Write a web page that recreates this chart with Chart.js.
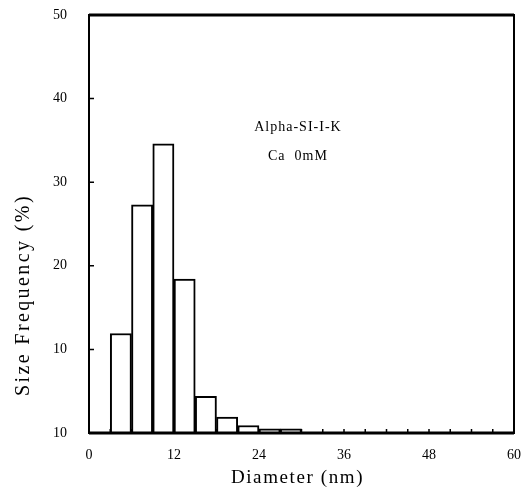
<!DOCTYPE html>
<html>
<head>
<meta charset="utf-8">
<script src="https://cdn.jsdelivr.net/npm/chart.js@4.4.1/dist/chart.umd.min.js"></script>
<style>
  html, body { margin: 0; padding: 0; background: #fff; }
  #wrap { width: 522px; height: 493px; }
</style>
</head>
<body>
<div id="wrap"><canvas id="histChart"></canvas></div>
<script>
// bin centres (nm), bins are 3 nm wide
const binCenters = [4.5, 7.5, 10.5, 13.5, 16.5, 19.5, 22.5, 25.5, 28.5];
// size frequency (%)
const frequency = [11.9, 27.3, 34.6, 18.4, 4.4, 1.9, 0.9, 0.5, 0.5];
// tick labels as printed on the figure
const yTickLabels = { 0: "10", 10: "10", 20: "20", 30: "30", 40: "40", 50: "50" };
const xTickLabels = { 0: "0", 12: "12", 24: "24", 36: "36", 48: "48", 60: "60" };
const notes = ["Alpha-SI-I-K", "Ca  0mM"];
const xTitle = "Diameter (nm)";
const yTitle = "Size Frequency (%)";

const serif = "'Liberation Serif', 'DejaVu Serif', serif";

// frame, inward ticks, axis titles and the text inside the plot
const framePlugin = {
  id: "frame",
  afterDraw(chart) {
    const ctx = chart.ctx;
    const a = chart.chartArea;
    const x = chart.scales.x, y = chart.scales.y;
    ctx.save();
    ctx.strokeStyle = "#000";
    ctx.lineWidth = 2;
    ctx.strokeRect(a.left, a.top, a.right - a.left, a.bottom - a.top);
    // heavier top edge and baseline, as in the print
    ctx.lineWidth = 3;
    ctx.beginPath();
    ctx.moveTo(a.left, a.top);
    ctx.lineTo(a.right, a.top);
    ctx.moveTo(a.left, a.bottom);
    ctx.lineTo(a.right, a.bottom);
    ctx.stroke();
    ctx.lineWidth = 1.5;
    ctx.beginPath();
    for (let v = 3; v < 60; v += 3) {
      const px = x.getPixelForValue(v);
      ctx.moveTo(px, a.bottom);
      ctx.lineTo(px, a.bottom - 4);
    }
    for (let v = 10; v < 50; v += 10) {
      const py = y.getPixelForValue(v);
      ctx.moveTo(a.left, py);
      ctx.lineTo(a.left + 5, py);
    }
    ctx.stroke();

    ctx.fillStyle = "#000";
    ctx.textAlign = "center";
    ctx.textBaseline = "middle";
    ctx.font = "14px " + serif;
    ctx.letterSpacing = "1px";
    ctx.fillText(notes[0], x.getPixelForValue(29.5), y.getPixelForValue(36.6));
    ctx.fillText(notes[1], x.getPixelForValue(29.5), y.getPixelForValue(33.1));

    ctx.font = "19px " + serif;
    ctx.letterSpacing = "1.6px";
    ctx.fillText(xTitle, (a.left + a.right) / 2 - 4, 478);

    ctx.translate(24, y.getPixelForValue(16.5));
    ctx.rotate(-Math.PI / 2);
    ctx.font = "20px " + serif;
    ctx.letterSpacing = "2.4px";
    ctx.fillText(yTitle, 0, 0);
    ctx.restore();
  }
};

new Chart(document.getElementById("histChart"), {
  type: "bar",
  data: {
    datasets: [{
      data: binCenters.map((c, i) => ({ x: c, y: frequency[i] })),
      backgroundColor: "#fff",
      borderColor: "#000",
      borderWidth: 2,
      borderSkipped: "bottom",
      barPercentage: 1,
      categoryPercentage: 1
    }]
  },
  options: {
    responsive: true,
    maintainAspectRatio: false,
    animation: false,
    layout: { padding: { top: 15, right: 8, left: 0, bottom: 0 } },
    plugins: { legend: { display: false }, tooltip: { enabled: false } },
    scales: {
      x: {
        type: "linear",
        min: 0,
        max: 60,
        offset: false,
        grid: { display: false, drawTicks: false },
        border: { display: false },
        ticks: {
          stepSize: 12,
          padding: 14,
          maxRotation: 0,
          autoSkip: false,
          color: "#000",
          font: { family: serif, size: 14 },
          callback: v => xTickLabels[v] ?? ""
        },
        afterFit: s => { s.height = 60; s.paddingLeft = 0; s.paddingRight = 0; }
      },
      y: {
        min: 0,
        max: 50,
        grid: { display: false, drawTicks: false },
        border: { display: false },
        ticks: {
          stepSize: 10,
          padding: 22,
          color: "#000",
          font: { family: serif, size: 14 },
          callback: v => yTickLabels[v] ?? ""
        },
        afterFit: s => { s.width = 89; s.paddingTop = 0; s.paddingBottom = 0; }
      }
    }
  },
  plugins: [framePlugin]
});
</script>
</body>
</html>
